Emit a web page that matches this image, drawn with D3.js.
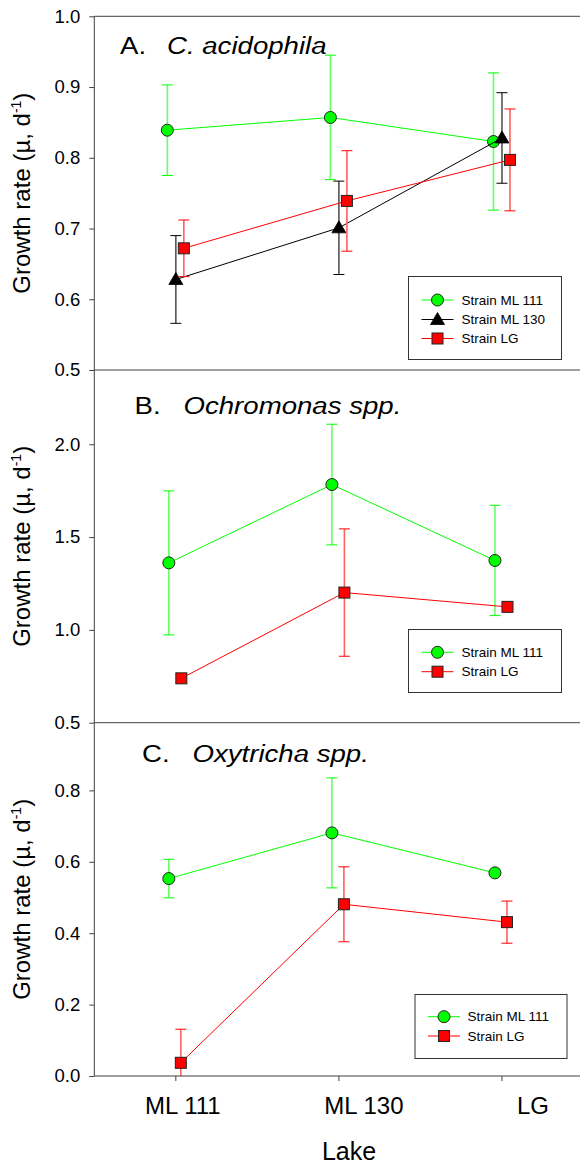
<!DOCTYPE html>
<html>
<head>
<meta charset="utf-8">
<script src="https://cdn.jsdelivr.net/npm/d3@7"></script>
<style>
  html, body { margin: 0; padding: 0; background: #fff; }
  svg { display: block; }
  text { font-family: "Liberation Sans", Arial, sans-serif; fill: #000; }
</style>
</head>
<body>
<svg id="chart" width="580" height="1167"></svg>
<script>
// Lakes (x categories)
const lakes = ["ML 111", "ML 130", "LG"];

// Panel A: C. acidophila — mean growth rate and SD per lake
const aStrainML111 = [0.839, 0.857, 0.823];
const aStrainML111Err = [0.064, 0.088, 0.097];
const aStrainML130 = [0.628, 0.701, 0.828];
const aStrainML130Err = [0.062, 0.066, 0.064];
const aStrainLG = [0.672, 0.739, 0.797];
const aStrainLGErr = [0.040, 0.071, 0.072];

// Panel B: Ochromonas spp.
const bStrainML111 = [1.361, 1.783, 1.374];
const bStrainML111Err = [0.388, 0.325, 0.297];
const bStrainLG = [0.739, 1.201, 1.124];
const bStrainLGErr = [0, 0.343, 0];

// Panel C: Oxytricha spp.
const cStrainML111 = [0.553, 0.681, 0.569];
const cStrainML111Err = [0.054, 0.154, 0];
const cStrainLG = [0.037, 0.481, 0.431];
const cStrainLGErr = [0.094, 0.105, 0.059];

// Y tick values
const aTicks = [0.5, 0.6, 0.7, 0.8, 0.9, 1.0];
const bTicks = [0.5, 1.0, 1.5, 2.0];
const cTicks = [0.0, 0.2, 0.4, 0.6, 0.8];

const svg = d3.select("#chart");
const axisColor = "#404040";

const x = d3.scaleLinear().domain([0.5, 3.5]).range([94.3, 583.5]);
const xLeft = 94.3, xRight = 580;

const styles = {
  ml111: { line: "#00ff00", bar: "#66ff66", fill: "#00ff00", shape: "circle" },
  ml130: { line: "#000000", bar: "#555555", fill: "#000000", shape: "triangle" },
  lg:    { line: "#ff0000", bar: "#ff6060", fill: "#ff0000", shape: "square" }
};

function drawMarker(g, shape, cx, cy, fill) {
  if (shape === "circle") {
    g.append("circle").attr("cx", cx).attr("cy", cy).attr("r", 6)
      .attr("fill", fill).attr("stroke", "#222").attr("stroke-width", 1);
  } else if (shape === "square") {
    g.append("rect").attr("x", cx - 5.5).attr("y", cy - 5.5)
      .attr("width", 11).attr("height", 11)
      .attr("fill", fill).attr("stroke", "#222").attr("stroke-width", 1);
  } else {
    g.append("path")
      .attr("d", `M${cx},${cy - 7}L${cx + 7},${cy + 5}L${cx - 7},${cy + 5}Z`)
      .attr("fill", fill).attr("stroke", "#000").attr("stroke-width", 0.8);
  }
}

function drawPanel(cfg) {
  const y = d3.scaleLinear().domain(cfg.domain).range([cfg.bottom, cfg.yTop]);
  const g = svg.append("g");
  const clipId = "clip-" + cfg.id;
  svg.append("clipPath").attr("id", clipId).append("rect")
    .attr("x", xLeft).attr("y", cfg.frameTop).attr("width", xRight - xLeft)
    .attr("height", cfg.bottom - cfg.frameTop);

  // Frame: top line and left axis with ticks
  g.append("line").attr("x1", xLeft).attr("x2", xRight)
    .attr("y1", cfg.frameTop).attr("y2", cfg.frameTop)
    .attr("stroke", axisColor).attr("stroke-width", 1);

  const yAxis = d3.axisLeft(y).tickValues(cfg.ticks).tickSize(5).tickPadding(9)
    .tickFormat(d3.format(".1f"));
  const ag = g.append("g").attr("transform", `translate(${xLeft},0)`).call(yAxis);
  ag.select(".domain").remove();
  ag.selectAll(".tick line").attr("stroke", axisColor);
  ag.selectAll(".tick text").attr("font-size", 18.5)
    .attr("font-family", "'Liberation Sans', Arial, sans-serif").attr("fill", "#000");
  g.append("line").attr("x1", xLeft).attr("x2", xLeft)
    .attr("y1", cfg.frameTop).attr("y2", cfg.bottom)
    .attr("stroke", axisColor).attr("stroke-width", 1);

  // Panel title: letter plus italic taxon name, set slightly wide
  const sx = 1.15;
  const t = g.append("text")
    .attr("transform", `translate(${cfg.titleX[0]},${cfg.titleY}) scale(${sx},1)`)
    .attr("font-size", 24);
  t.append("tspan").attr("x", 0).text(cfg.letter);
  t.append("tspan").attr("x", (cfg.titleX[1] - cfg.titleX[0]) / sx)
    .attr("font-style", "italic").text(cfg.taxon);

  // Axis title
  const yt = g.append("text")
    .attr("transform", `translate(30,${(cfg.frameTop + cfg.bottom) / 2}) rotate(-90)`)
    .attr("text-anchor", "middle").attr("font-size", 24);
  yt.append("tspan").text("Growth rate (µ, d");
  yt.append("tspan").attr("dy", -9).attr("font-size", 14).text("-1");
  yt.append("tspan").attr("dy", 9).text(")");

  // Series
  const plot = g.append("g").attr("clip-path", `url(#${clipId})`);
  cfg.series.forEach(s => {
    const st = styles[s.key];
    const sg = plot.append("g");
    const pts = s.values.map((v, i) => ({ cx: x(i + 1) + s.dx, v, e: s.err[i] }));
    pts.forEach(p => {
      if (p.e > 0) {
        sg.append("line").attr("x1", p.cx).attr("x2", p.cx)
          .attr("y1", y(p.v - p.e)).attr("y2", y(p.v + p.e))
          .attr("stroke", st.bar).attr("stroke-width", 1.6);
        [p.v - p.e, p.v + p.e].forEach(yy => {
          sg.append("line").attr("x1", p.cx - 5.5).attr("x2", p.cx + 5.5)
            .attr("y1", y(yy)).attr("y2", y(yy))
            .attr("stroke", st.line).attr("stroke-width", 1);
        });
      }
    });
    sg.append("path")
      .attr("d", d3.line().x(p => p.cx).y(p => y(p.v))(pts))
      .attr("fill", "none").attr("stroke", st.line).attr("stroke-width", 1);
    pts.forEach(p => drawMarker(sg, st.shape, p.cx, y(p.v), st.fill));
  });

  // Legend
  const L = cfg.legend;
  const lg = g.append("g");
  lg.append("rect").attr("x", L.x).attr("y", L.y).attr("width", L.w).attr("height", L.h)
    .attr("fill", "#fff").attr("stroke", "#333").attr("stroke-width", 1);
  cfg.series.forEach((s, i) => {
    const st = styles[s.key];
    const ry = L.rowY[i];
    lg.append("line").attr("x1", L.lineX[0]).attr("x2", L.lineX[1])
      .attr("y1", ry).attr("y2", ry).attr("stroke", st.line).attr("stroke-width", 1);
    drawMarker(lg, st.shape, (L.lineX[0] + L.lineX[1]) / 2, ry, st.fill);
    lg.append("text").attr("x", L.textX).attr("y", ry).attr("dy", "0.35em")
      .attr("font-size", 13.5).text(s.label);
  });
  return y;
}

drawPanel({
  id: "a", domain: [0.5, 1.0], yTop: 16.3, frameTop: 16.3, bottom: 370,
  ticks: aTicks, letter: "A.", taxon: "C. acidophila", titleX: [120, 167], titleY: 54,
  series: [
    { key: "ml111", label: "Strain ML 111", values: aStrainML111, err: aStrainML111Err, dx: -8.5 },
    { key: "ml130", label: "Strain ML 130", values: aStrainML130, err: aStrainML130Err, dx: 0 },
    { key: "lg", label: "Strain LG", values: aStrainLG, err: aStrainLGErr, dx: 8 }
  ],
  legend: { x: 408.5, y: 276.5, w: 153, h: 83, rowY: [300, 319.5, 338.5], lineX: [421.5, 453.5], textX: 461.5 }
});

drawPanel({
  id: "b", domain: [0.5, 2.4], yTop: 370, frameTop: 370, bottom: 722.7,
  ticks: bTicks, letter: "B.", taxon: "Ochromonas spp.", titleX: [134.5, 183.5], titleY: 414,
  series: [
    { key: "ml111", label: "Strain ML 111", values: bStrainML111, err: bStrainML111Err, dx: -7 },
    { key: "lg", label: "Strain LG", values: bStrainLG, err: bStrainLGErr, dx: 5.5 }
  ],
  legend: { x: 408.5, y: 629.5, w: 153, h: 63, rowY: [652.3, 671.7], lineX: [421.5, 453.5], textX: 461.5 }
});

drawPanel({
  id: "c", domain: [0.0, 1.0], yTop: 719, frameTop: 722.7, bottom: 1076,
  ticks: cTicks, letter: "C.", taxon: "Oxytricha spp.", titleX: [142, 192.5], titleY: 762,
  series: [
    { key: "ml111", label: "Strain ML 111", values: cStrainML111, err: cStrainML111Err, dx: -7 },
    { key: "lg", label: "Strain LG", values: cStrainLG, err: cStrainLGErr, dx: 5 }
  ],
  legend: { x: 415, y: 994.5, w: 152, h: 64, rowY: [1016.7, 1036], lineX: [428, 460], textX: 467.5 }
});

// Bottom x axis
const labelShift = [7, 25, 31];
const xg = svg.append("g").attr("transform", "translate(0,1076)");
xg.append("line").attr("x1", xLeft).attr("x2", xRight).attr("stroke", axisColor);
lakes.forEach((lake, i) => {
  const px = x(i + 1);
  xg.append("line").attr("x1", px).attr("x2", px).attr("y1", 0).attr("y2", 5)
    .attr("stroke", axisColor);
  xg.append("text").attr("x", px + labelShift[i]).attr("y", 38)
    .attr("text-anchor", "middle").attr("font-size", 24).text(lake);
});
svg.append("text").attr("x", 349).attr("y", 1160).attr("text-anchor", "middle")
  .attr("font-size", 25).text("Lake");
</script>
</body>
</html>
